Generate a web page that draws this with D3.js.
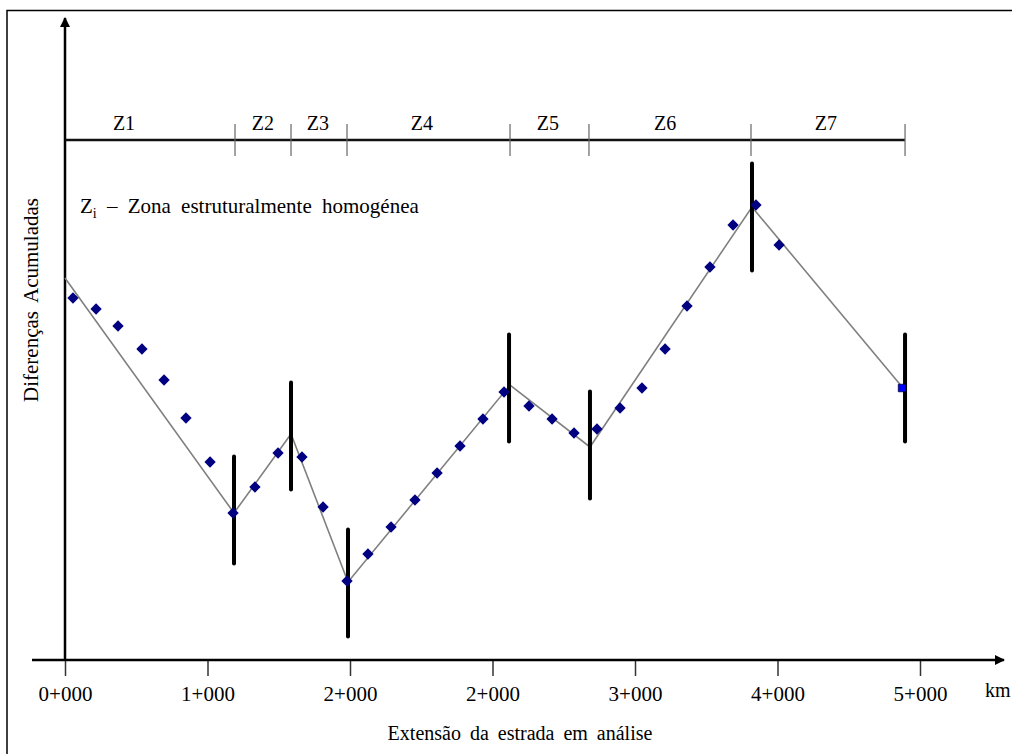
<!DOCTYPE html>
<html>
<head>
<meta charset="utf-8">
<script src="https://cdn.jsdelivr.net/npm/d3@7"></script>
<style>
  body { margin: 0; background: #fff; }
  text { font-family: "Liberation Serif", "Times New Roman", serif; fill: #000; }
</style>
</head>
<body>
<div id="chart"></div>
<script>
// **************************DATA***********************************************
// Chainage (m) of each measured point and its accumulated difference
var pointKm = [56, 218, 372, 540, 695, 849, 1018, 1179, 1333, 1495, 1663, 1811,
  1979, 2126, 2288, 2456, 2611, 2772, 2933, 3081, 3256, 3418, 3572, 3733, 3895,
  4049, 4211, 4365, 4526, 4688, 4849, 5011];
var pointVal = [72.4, 70.2, 66.8, 62.2, 56, 48.4, 39.6, 29.4, 34.6, 41.4, 40.6,
  30.6, 15.8, 21.2, 26.6, 32, 37.4, 42.8, 48.2, 53.6, 50.8, 48.2, 45.4, 46.2,
  50.4, 54.4, 62.2, 70.8, 78.6, 87, 91, 83];

// Last point (square marker)
var lastKm = 5874,
    lastVal = 54.4;

// Piecewise trend line vertices
var lineKm = [0, 1186, 1586, 1986, 3123, 3684, 4821, 5881];
var lineVal = [76.4, 29.4, 45.2, 15.6, 55, 42.6, 90.6, 54.4];

// Zone boundary bars (chainage and centre value)
var barKm = [1186, 1586, 1986, 3116, 3684, 4821, 5895];
var barMid = [30, 44.8, 15.4, 54.4, 43, 88.6, 54.4];
var barHalf = 10.7;

// Zones
var zoneEdges = [0, 1193, 1586, 1979, 3123, 3677, 4814, 5895];
var zoneNames = ["Z1", "Z2", "Z3", "Z4", "Z5", "Z6", "Z7"];
var zoneLabelKm = [414, 1389, 1775, 2505, 3389, 4211, 5340];
var zoneLevel = 104;

// X ticks
var tickKm = [0, 1000, 2000, 3000, 4000, 5000, 6000];
var tickLabels = ["0+000", "1+000", "2+000", "2+000", "3+000", "4+000", "5+000"];

// **************************CANVAS SET UP**************************************
var svgWidth = 1012,
    svgHeight = 754;

var svg = d3.select("#chart")
  .append("svg")
    .attr("width", svgWidth)
    .attr("height", svgHeight);

// Frame round the figure
svg.append("rect")
  .attr("x", 7)
  .attr("y", 10.5)
  .attr("width", 1020)
  .attr("height", 770)
  .attr("fill", "none")
  .attr("stroke", "#000")
  .attr("stroke-width", 1.5);

// *******************************SCALES****************************************
var x = d3.scaleLinear().domain([0, 6000]).range([65, 920]);
var y = d3.scaleLinear().domain([0, 128]).range([660, 20]);

// *********************************AXES****************************************
var defs = svg.append("defs");
defs.append("marker")
  .attr("id", "arrow")
  .attr("viewBox", "0 0 10 10")
  .attr("refX", 9)
  .attr("refY", 5)
  .attr("markerWidth", 4)
  .attr("markerHeight", 4)
  .attr("markerUnits", "strokeWidth")
  .attr("orient", "auto")
  .append("path")
    .attr("d", "M0,0 L10,5 L0,10 Z")
    .attr("fill", "#000");

var xAxis = d3.axisBottom(x)
  .tickValues(tickKm)
  .tickFormat((d, i) => tickLabels[i])
  .tickSize(16)
  .tickPadding(10);

var xAxisGroup = svg.append("g")
  .attr("transform", `translate(0, ${y(0)})`)
  .call(xAxis);

xAxisGroup.select(".domain").remove();
xAxisGroup.selectAll(".tick line")
  .attr("stroke", "#333")
  .attr("stroke-width", 1.5);
xAxisGroup.selectAll(".tick text")
  .attr("font-family", "Liberation Serif")
  .attr("font-size", 21)
  .attr("fill", "#000");

// x axis line with arrow
svg.append("line")
  .attr("x1", 32).attr("y1", y(0))
  .attr("x2", 1004).attr("y2", y(0))
  .attr("stroke", "#000")
  .attr("stroke-width", 2.5)
  .attr("marker-end", "url(#arrow)");

// y axis line with arrow
svg.append("line")
  .attr("x1", x(0)).attr("y1", y(0))
  .attr("x2", x(0)).attr("y2", 18)
  .attr("stroke", "#000")
  .attr("stroke-width", 2.5)
  .attr("marker-end", "url(#arrow)");

// *********************************LABELS**************************************
svg.append("text")
  .attr("x", 520)
  .attr("y", 740)
  .attr("text-anchor", "middle")
  .attr("font-size", 20)
  .attr("word-spacing", 4)
  .text("Extensão da estrada em análise");

svg.append("text")
  .attr("x", 985)
  .attr("y", 697)
  .attr("font-size", 20)
  .text("km");

svg.append("text")
  .attr("transform", "translate(38, 300) rotate(-90)")
  .attr("text-anchor", "middle")
  .attr("font-size", 21)
  .attr("word-spacing", 4)
  .text("Diferenças Acumuladas");

var legend = svg.append("text")
  .attr("x", 80)
  .attr("y", 213)
  .attr("font-size", 21)
  .attr("word-spacing", 5);
legend.append("tspan").text("Z");
legend.append("tspan").attr("font-size", 14).attr("dy", 5).text("i");
legend.append("tspan").attr("dy", -5).text(" – Zona estruturalmente homogénea");

// *********************************ZONES***************************************
svg.append("line")
  .attr("x1", x(zoneEdges[0])).attr("y1", y(zoneLevel))
  .attr("x2", x(zoneEdges[zoneEdges.length - 1])).attr("y2", y(zoneLevel))
  .attr("stroke", "#111")
  .attr("stroke-width", 2.5);

svg.selectAll(".zoneTick")
  .data(zoneEdges.slice(1))
  .enter()
  .append("line")
    .attr("class", "zoneTick")
    .attr("x1", d => x(d)).attr("x2", d => x(d))
    .attr("y1", y(zoneLevel) - 16).attr("y2", y(zoneLevel) + 16)
    .attr("stroke", "#666")
    .attr("stroke-width", 1.2);

svg.selectAll(".zoneLabel")
  .data(zoneNames)
  .enter()
  .append("text")
    .attr("class", "zoneLabel")
    .attr("x", (d, i) => x(zoneLabelKm[i]))
    .attr("y", y(zoneLevel) - 10)
    .attr("text-anchor", "middle")
    .attr("font-size", 20)
    .text(d => d);

// ******************************TREND LINE*************************************
var trend = d3.line()
  .x(d => x(d[0]))
  .y(d => y(d[1]));

svg.append("path")
  .datum(d3.zip(lineKm, lineVal))
  .attr("d", trend)
  .attr("fill", "none")
  .attr("stroke", "#808080")
  .attr("stroke-width", 1.6);

// ******************************BOUNDARY BARS**********************************
svg.selectAll(".bar")
  .data(d3.zip(barKm, barMid))
  .enter()
  .append("line")
    .attr("class", "bar")
    .attr("x1", d => x(d[0])).attr("x2", d => x(d[0]))
    .attr("y1", d => y(d[1] + barHalf)).attr("y2", d => y(d[1] - barHalf))
    .attr("stroke", "#000")
    .attr("stroke-width", 4)
    .attr("stroke-linecap", "round");

// ********************************POINTS***************************************
var diamond = d3.symbol().type(d3.symbolSquare).size(64);

svg.selectAll(".pt")
  .data(d3.zip(pointKm, pointVal))
  .enter()
  .append("path")
    .attr("class", "pt")
    .attr("d", diamond)
    .attr("transform", d => `translate(${x(d[0])}, ${y(d[1])}) rotate(45)`)
    .attr("fill", "#000080");

svg.append("path")
  .attr("d", d3.symbol().type(d3.symbolSquare).size(56))
  .attr("transform", `translate(${x(lastKm)}, ${y(lastVal)})`)
  .attr("fill", "#0000ff")
  .attr("stroke", "#000040")
  .attr("stroke-width", 0.8);
</script>
</body>
</html>
